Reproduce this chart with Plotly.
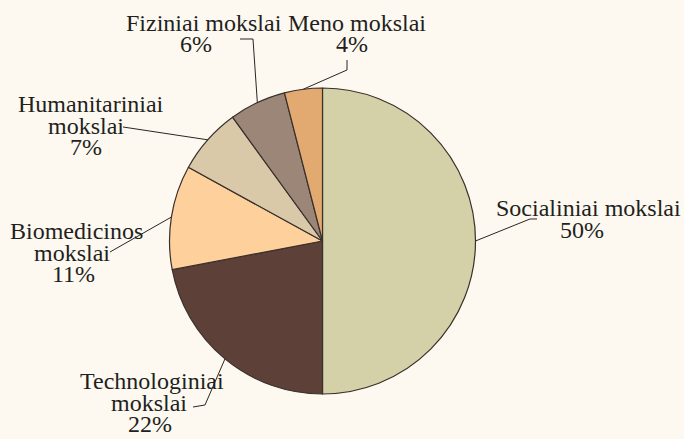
import math
import plotly.graph_objects as go

# ---- data ----
categories = ["Socialiniai mokslai", "Technologiniai mokslai", "Biomedicinos mokslai",
              "Humanitariniai mokslai", "Fiziniai mokslai", "Meno mokslai"]
values = [50, 22, 11, 7, 6, 4]
name_lines = [["Socialiniai mokslai"], ["Technologiniai", "mokslai"], ["Biomedicinos", "mokslai"],
              ["Humanitariniai", "mokslai"], ["Fiziniai mokslai"], ["Meno mokslai"]]
colors = ["#D4D0A8", "#5D4038", "#FED09C", "#D9C9A9", "#9C8678", "#E2A971"]

# ---- layout config (pixels) ----
W, H = 684, 439
CX, CY, R = 322.5, 241, 153
FONT = "Liberation Serif, Times New Roman, DejaVu Serif, serif"
FS = 24
LH = 21.5
# per label: x centers of each line, y center of first line, leader points after the edge point
label_cfg = [
    dict(xs=[588, 582], y0=208, lead=[(530, 219), (537, 219)]),
    dict(xs=[152, 149, 150], y0=381, lead=[(205, 405), (193, 407)]),
    dict(xs=[76, 72, 73], y0=231, lead=[(110, 252)]),
    dict(xs=[91, 86, 86], y0=104, lead=[(123, 127)]),
    dict(xs=[204, 196], y0=23, lead=[(253, 39), (240, 39)]),
    dict(xs=[357, 352], y0=23, lead=[(347, 70), (347, 60)]),
]

def px(x):
    return x / W

def py(y):
    return 1 - y / H

fig = go.Figure(go.Pie(
    labels=categories, values=values, sort=False, direction="clockwise", rotation=0,
    marker=dict(colors=colors, line=dict(color="#3A302B", width=1.2)),
    textinfo="none", hoverinfo="label+percent", showlegend=False,
    domain=dict(x=[px(CX - R), px(CX + R)], y=[py(CY + R), py(CY - R)]),
))

total = sum(values)
cum = 0
annotations = []
shapes = []
for name, v, lines, cfg in zip(categories, values, name_lines, label_cfg):
    theta = 2 * math.pi * (cum + v / 2) / total
    cum += v
    ex = CX + R * math.sin(theta)
    ey = CY - R * math.cos(theta)
    pts = [(ex, ey)] + cfg["lead"]
    path = "M " + " L ".join(f"{px(a):.5f},{py(b):.5f}" for a, b in pts)
    shapes.append(dict(type="path", path=path, xref="paper", yref="paper",
                       line=dict(color="#2B2522", width=1)))
    text_lines = lines + [f"{round(100 * v / total)}%"]
    for i, t in enumerate(text_lines):
        annotations.append(dict(
            text=t, x=px(cfg["xs"][i]), y=py(cfg["y0"] + i * LH), xref="paper", yref="paper",
            xanchor="center", yanchor="middle", showarrow=False, borderpad=0,
            font=dict(family=FONT, size=FS, color="#231F20"),
        ))

fig.update_layout(
    width=W, height=H, margin=dict(l=0, r=0, t=0, b=0),
    paper_bgcolor="#FDF9F1", plot_bgcolor="#FDF9F1",
    annotations=annotations, shapes=shapes,
)
fig.write_html("out.html", config=dict(displayModeBar=False),
               post_script="document.body.style.margin='0';document.body.style.overflow='hidden';")
